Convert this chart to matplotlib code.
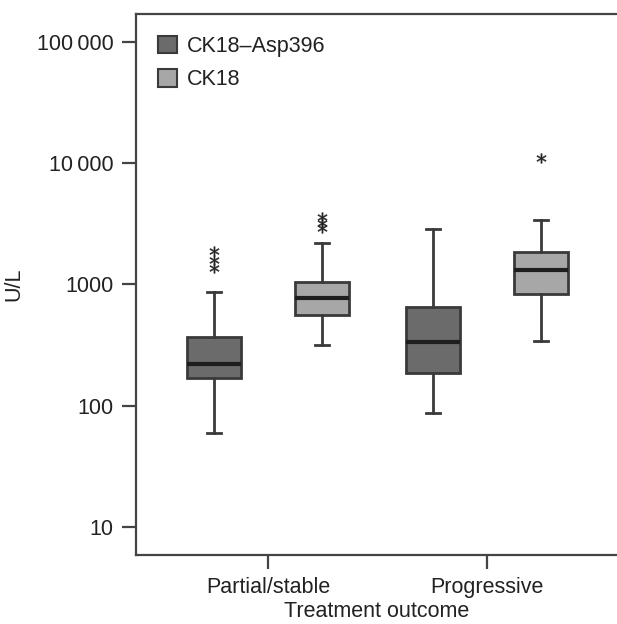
import numpy as np
import matplotlib
matplotlib.use("Agg")
import matplotlib.pyplot as plt
from matplotlib.patches import Patch

plt.rcParams['font.family'] = ['Liberation Sans', 'DejaVu Sans']

# data (U/L)
groups = ['Partial/stable', 'Progressive']
series = ['CK18\u2013Asp396', 'CK18']

asp_whislo = [60, 87]
asp_q1 = [170, 187]
asp_med = [223, 333]
asp_q3 = [366, 653]
asp_whishi = [869, 2872]
asp_fliers = [[1884, 1585, 1355], []]

ck_whislo = [316, 339]
ck_q1 = [561, 836]
ck_med = [766, 1312]
ck_q3 = [1050, 1857]
ck_whishi = [2203, 3388]
ck_fliers = [[3565, 3219, 2895], [10940]]

ytick_vals = [10, 100, 1000, 10000, 100000]
ytick_labels = ['10', '100', '1000', '10\u2009000', '100\u2009000']

dark = '#6b6b6b'
light = '#a7a7a7'
edge = '#3a3a3a'

fig = plt.figure(figsize=(6.17, 6.24), dpi=100)
ax = fig.add_axes([136 / 617, 69 / 624, 1 - 136 / 617, 541 / 624])


def make_stats(lo, q1, med, q3, hi, fl):
    out = []
    for i in range(len(lo)):
        out.append(dict(whislo=lo[i], q1=q1[i], med=med[i], q3=q3[i],
                        whishi=hi[i], fliers=fl[i]))
    return out


off = 0.247
w = 0.247
pos = np.arange(len(groups))
asp_stats = make_stats(asp_whislo, asp_q1, asp_med, asp_q3, asp_whishi, asp_fliers)
ck_stats = make_stats(ck_whislo, ck_q1, ck_med, ck_q3, ck_whishi, ck_fliers)
for stats, shift, col in [(asp_stats, -off, dark), (ck_stats, off, light)]:
    ax.bxp(stats, positions=pos + shift, widths=w,
           patch_artist=True, manage_ticks=False,
           boxprops=dict(facecolor=col, edgecolor=edge, linewidth=2),
           medianprops=dict(color='#1e1e1e', linewidth=3),
           whiskerprops=dict(color=edge, linewidth=2),
           capprops=dict(color=edge, linewidth=2),
           capwidths=0.064,
           flierprops=dict(marker='$*$', markersize=7, markerfacecolor='#222222',
                           markeredgecolor='#222222', markeredgewidth=0.3, linestyle='none'))

ax.set_yscale('log')
ax.set_ylim(5.9, 169000)
ax.set_xlim(-0.603, 1.594)
ax.minorticks_off()
ax.set_yticks(ytick_vals)
ax.set_yticklabels(ytick_labels)
ax.set_xticks(pos)
ax.set_xticklabels(groups)

for s in ['left', 'bottom', 'top']:
    ax.spines[s].set_color('#444444')
    ax.spines[s].set_linewidth(1.6)
ax.spines['right'].set_visible(False)
ax.tick_params(axis='both', direction='out', length=10, width=1.6, color='#444444',
               labelsize=15.5, labelcolor='#222222', pad=6)

ax.set_ylabel('U/L', fontsize=15.5, color='#222222', labelpad=9)
ax.set_xlabel('Treatment outcome', fontsize=15.5, color='#222222', labelpad=2)

handles = [Patch(facecolor=dark, edgecolor=edge, linewidth=1.5, label=series[0]),
           Patch(facecolor=light, edgecolor=edge, linewidth=1.5, label=series[1])]
ax.legend(handles=handles, loc='upper left', frameon=False, fontsize=15.5,
          handlelength=0.9, handleheight=0.9, handletextpad=0.45,
          borderaxespad=0.6, labelspacing=0.55, labelcolor='#222222')

fig.savefig('out.png', dpi=100)
